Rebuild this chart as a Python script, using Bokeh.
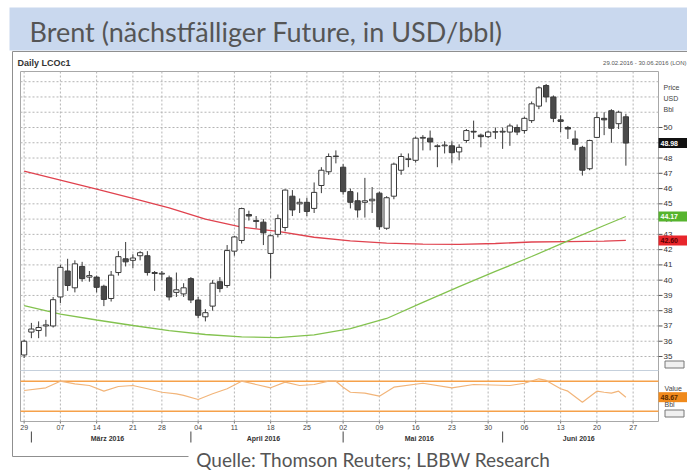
from bokeh.plotting import figure
from bokeh.models import Range1d, ColumnDataSource
from bokeh.core.properties import value
from bokeh.embed import file_html
from bokeh.resources import INLINE

# ---------------- texts ----------------
title_text = "Brent (nächstfälliger Future, in USD/bbl)"
source_text = "Quelle: Thomson Reuters; LBBW Research"
ric_text = "Daily LCOc1"
period_text = "29.02.2016 - 30.06.2016 (LON)"
unit_texts = ["Price", "USD", "Bbl"]
osc_texts = ["Value", "Bbl"]

# ---------------- data: daily OHLC, trading-day index 0 = 29.02.2016 ----------------
opens = [35.1, 36.6, 36.7, 37.0, 37.0, 38.9, 40.6, 39.5, 40.9, 40.2,
         40.2, 39.6, 38.8, 40.5, 41.4, 41.3, 41.6, 41.6, 40.5, 40.4,
         40.15, 39.2, 39.1, 40.1, 38.7, 37.6, 38.3, 39.9, 39.65, 41.9,
         42.6, 44.3, 43.9, 43.8, 41.75, 43.0, 43.45, 45.5, 45.0, 45.1,
         44.7, 46.2, 47.1, 48.1, 47.4, 45.8, 45.2, 45.1, 45.2, 45.7,
         43.4, 45.5, 47.2, 47.9, 47.85, 49.3, 49.3, 48.75, 48.8, 48.8,
         48.4, 49.15, 49.75, 49.5, 49.4, 49.7, 49.7, 49.7, 50.0, 49.8,
         50.45, 51.4, 52.75, 52.0, 50.5, 50.0, 49.25, 48.7, 47.3, 49.35,
         50.6, 51.1, 50.25, 50.7]
highs = [36.1, 37.2, 37.3, 37.4, 38.9, 41.0, 41.4, 41.3, 41.2, 40.6,
         40.3, 39.7, 40.6, 41.9, 42.5, 41.7, 41.9, 41.9, 40.6, 40.6,
         40.3, 40.5, 39.8, 40.2, 38.9, 38.1, 40.0, 40.2, 42.3, 42.9,
         44.75, 44.55, 44.2, 44.0, 43.0, 44.3, 45.95, 45.9, 45.35, 45.4,
         46.4, 47.4, 48.3, 48.5, 47.6, 46.0, 45.75, 46.7, 46.1, 45.8,
         45.5, 47.7, 48.3, 48.3, 49.4, 49.5, 49.8, 48.9, 49.1, 49.1,
         48.9, 49.9, 50.45, 49.6, 49.8, 50.0, 50.0, 50.25, 50.2, 50.7,
         51.7, 52.7, 52.85, 52.1, 50.8, 50.1, 49.8, 48.8, 49.2, 51.0,
         51.0, 51.2, 51.1, 50.9]
lows = [34.9, 36.2, 36.2, 36.3, 36.9, 38.5, 39.3, 39.2, 39.9, 39.9,
        39.2, 38.3, 38.6, 40.3, 40.9, 40.8, 41.3, 40.3, 39.3, 40.0,
        38.67, 38.9, 38.9, 38.5, 37.5, 37.3, 38.0, 39.2, 39.5, 41.6,
        42.4, 43.9, 43.4, 42.3, 40.1, 42.8, 43.2, 44.2, 44.4, 44.2,
        44.4, 45.7, 46.9, 47.65, 45.6, 44.7, 44.1, 44.1, 44.4, 43.3,
        43.3, 45.3, 46.9, 47.4, 47.7, 48.5, 48.5, 47.4, 48.3, 47.65,
        47.85, 49.0, 49.25, 48.7, 49.3, 49.25, 48.6, 48.8, 49.5, 49.6,
        50.3, 51.2, 51.65, 50.35, 49.7, 49.25, 48.5, 46.85, 47.2, 49.3,
        49.5, 49.0, 49.9, 47.5]
closes = [36.0, 36.8, 36.9, 37.07, 38.72, 40.84, 39.65, 41.07, 40.1, 40.3,
          39.53, 38.74, 40.33, 41.54, 41.2, 41.45, 41.8, 40.5, 40.44, 40.45,
          38.9, 39.37, 39.5, 38.7, 37.7, 37.87, 39.8, 39.45, 41.94, 42.83,
          44.69, 44.2, 43.85, 43.1, 42.91, 44.03, 45.9, 44.6, 45.1, 44.5,
          45.75, 47.2, 48.1, 48.13, 45.8, 45.1, 44.6, 45.2, 45.3, 43.5,
          45.4, 47.6, 48.1, 47.95, 49.3, 49.35, 49.05, 48.8, 48.85, 48.35,
          48.7, 49.8, 49.7, 49.4, 49.7, 49.72, 49.75, 50.1, 49.7, 50.6,
          51.55, 52.6, 52.0, 50.6, 50.4, 49.9, 48.9, 47.2, 49.15, 50.65,
          50.5, 49.95, 51.0, 48.98]

# moving averages (read at weekly steps)
ma_idx = [0, 5, 10, 15, 20, 25, 30, 35, 40, 45, 50, 55, 60, 65, 70, 75, 80, 83]
ma_long = [47.15, 46.55, 45.96, 45.36, 44.73, 44.0, 43.48, 43.19, 42.81, 42.57,
           42.42, 42.36, 42.34, 42.4, 42.5, 42.53, 42.56, 42.6]
ma_short = [38.34, 37.78, 37.39, 37.03, 36.7, 36.44, 36.28, 36.24, 36.41, 36.83,
            37.49, 38.54, 39.58, 40.57, 41.55, 42.57, 43.58, 44.17]

# RSI oscillator
rsi_idx = [0, 3, 5, 7, 9, 11, 13, 15, 17, 19, 21, 22, 24, 26, 28, 30, 32, 34, 36, 38,
           40, 42, 43, 44, 45, 47, 49, 51, 55, 59, 62, 67, 69, 71, 72, 74, 75, 77, 79,
           80, 81, 82, 83]
rsi_vals = [57.6, 61.2, 70.0, 66.5, 64.3, 56.7, 62.9, 64.3, 59.9, 55.3, 53.2, 51.0, 45.6,
            53.2, 59.9, 70.0, 65.6, 61.2, 68.7, 64.3, 65.6, 70.0, 70.0, 62.0, 55.3, 54.0,
            50.0, 62.0, 67.3, 61.2, 65.6, 64.3, 67.3, 73.2, 71.0, 59.9, 56.7, 42.0, 56.7,
            55.3, 54.0, 56.7, 48.7]
rsi_levels = [70, 30]
rsi_last_text = "48.67"

# axis ticks
week_ticks = [0, 5, 10, 15, 19, 24, 29, 34, 39, 44, 49, 54, 59, 64, 69, 74, 79, 84]
week_labels = ["29", "07", "14", "21", "28", "04", "11", "18", "25", "02", "09",
               "16", "23", "30", "06", "13", "20", "27"]
month_starts = [1, 23, 44, 66]
month_mids = [11.5, 33, 54.5, 76.5]
month_labels = ["März 2016", "April 2016", "Mai 2016", "Juni 2016"]
price_ticks = list(range(35, 51))
grid_prices = list(range(35, 54))

# ---------------- layout constants (canvas pixels) ----------------
W, H = 687, 472
PL, PR, PT, PB = 20, 658, 71, 421      # plot area
DX = 7.25                               # px per trading day
Y35, PPU = 356.0, 15.267                # y of 35 USD, px per USD
R70, RPU = 380.7, 0.75                  # y of RSI 70, px per RSI point
AX_FONT = value("Liberation Sans")

p = figure(width=W, height=H, output_backend="svg", toolbar_location=None,
           x_range=Range1d(-0.5 - PL / DX, -0.5 + (W - PL) / DX),
           y_range=Range1d(35 - (H - Y35) / PPU, 35 + Y35 / PPU),
           x_axis_location=None, y_axis_location=None, min_border=0,
           outline_line_color=None, background_fill_color="white",
           border_fill_color="white")
for g in p.grid:
    g.visible = False
p.extra_x_ranges = {"px": Range1d(0, W)}
p.extra_y_ranges = {"py": Range1d(H, 0),
                    "rsi": Range1d(70 - (H - R70) / RPU, 70 + R70 / RPU)}

PX = dict(x_range_name="px", y_range_name="py")

# ---------------- frame decorations ----------------
p.quad(left=[9], right=[W], top=[7], bottom=[50], fill_color="#c9d8ee",
       line_color=None, **PX)
p.segment(x0=[12, 12, 12], y0=[51, 51, 456], x1=[12, W, 188], y1=[456, 51, 456],
          line_color="#8f8f8f", line_width=1, **PX)
p.quad(left=[PL], right=[PR], top=[PT], bottom=[PB], fill_color="white",
       line_color="#a8a8a8", line_width=1, **PX)
p.segment(x0=[PL], y0=[370], x1=[PR], y1=[370], line_color="#c5d0dc", line_width=1, **PX)

# grid
n = len(week_ticks)
p.segment(x0=week_ticks, y0=[PT] * n, x1=week_ticks, y1=[PB] * n, y_range_name="py",
          line_color="#b4b4b4", line_dash="2 2", line_width=1)
m = len(grid_prices)
p.segment(x0=[PL] * m, y0=grid_prices, x1=[PR] * m, y1=grid_prices, x_range_name="px",
          line_color="#b4b4b4", line_dash="2 2", line_width=1)

# ---------------- candles ----------------
bull = [c >= o for o, c in zip(opens, closes)]
src = ColumnDataSource(dict(
    x=list(range(len(opens))), h=highs, l=lows,
    top=[max(o, c) for o, c in zip(opens, closes)],
    bottom=[min(o, c) for o, c in zip(opens, closes)],
    fill=["#ffffff" if b else "#4a4a4a" for b in bull]))
p.line(ma_idx, ma_long, line_color="#e0434f", line_width=1.3)
p.line(ma_idx, ma_short, line_color="#83c24f", line_width=1.3)
p.segment(x0="x", y0="l", x1="x", y1="h", source=src, line_color="#3a3a3a", line_width=1)
p.vbar(x="x", top="top", bottom="bottom", width=0.72, fill_color="fill",
       line_color="#3a3a3a", line_width=1, source=src)

# oscillator: level lines limited to the plot area
nl = len(rsi_levels)
p.segment(x0=[PL] * nl, y0=rsi_levels, x1=[PR] * nl, y1=rsi_levels, x_range_name="px",
          y_range_name="rsi", line_color="#f6a14a", line_width=1.6)
p.line(rsi_idx, rsi_vals, y_range_name="rsi", line_color="#f2b57a", line_width=1.2)

# ---------------- axes (drawn as ticks + texts) ----------------
# bottom day labels
p.segment(x0=week_ticks, y0=[PB] * n, x1=week_ticks, y1=[PB + 2] * n, y_range_name="py",
          line_color="#777777")
p.text(x=week_ticks, y=[427] * n, text=week_labels, y_range_name="py",
       text_font=AX_FONT, text_font_size="7px", text_color="#444444",
       text_align="center", text_baseline="middle")
# month row
p.segment(x0=month_starts, y0=[431] * 4, x1=month_starts, y1=[442] * 4,
          y_range_name="py", line_color="#444444", line_width=1)
p.text(x=month_mids, y=[437.5] * 4, text=month_labels, y_range_name="py",
       text_font=AX_FONT, text_font_size="7px", text_font_style="bold",
       text_color="#333333", text_align="center", text_baseline="middle")
# right price axis
k = len(price_ticks)
p.segment(x0=[PR] * k, y0=price_ticks, x1=[PR + 4] * k, y1=price_ticks,
          x_range_name="px", line_color="#555555")
p.text(x=[PR + 5] * k, y=price_ticks, text=[str(v) for v in price_ticks],
       x_range_name="px", text_font=AX_FONT, text_font_size="8px",
       text_color="#333333", text_baseline="middle")

# value boxes at right edge
box_vals = [closes[-1], ma_short[-1], ma_long[-1]]
box_fill = ["#111111", "#56b42e", "#e8262c"]
box_text_col = ["#ffffff", "#ffffff", "#5a0000"]
p.rect(x=[(PR + W) / 2] * 3, y=box_vals, width=W - PR, height=10, height_units="screen",
       x_range_name="px", fill_color=box_fill, line_color=None)
p.text(x=[PR + 2] * 3, y=box_vals, text=[f"{v:.2f}" for v in box_vals],
       x_range_name="px", text_font=AX_FONT, text_font_size="7px",
       text_font_style="bold", text_color=box_text_col, text_baseline="middle")
p.rect(x=[(PR + W) / 2], y=[rsi_vals[-1]], width=W - PR, height=10, height_units="screen",
       x_range_name="px", y_range_name="rsi", fill_color="#f08a1c", line_color=None)
p.text(x=[PR + 2], y=[rsi_vals[-1]], text=[rsi_last_text], x_range_name="px",
       y_range_name="rsi", text_font=AX_FONT, text_font_size="7px",
       text_font_style="bold", text_color="#5a2a00", text_baseline="middle")

# small scale buttons
p.rect(x=[674, 674], y=[364, 413], width=[19, 19], height=[7, 7], fill_color="#f0f0f0",
       line_color="#777777", line_width=1, **PX)

# ---------------- header / footer texts ----------------
p.text(x=[29], y=[31], text=[title_text], text_font=value("Lato"), text_font_size="27px",
       text_color="#555555", text_baseline="middle", **PX)
p.text(x=[373], y=[459], text=[source_text], text_font=value("Lato"),
       text_font_size="19px", text_color="#555555", text_align="center",
       text_baseline="middle", **PX)
p.text(x=[17], y=[62], text=[ric_text], text_font=AX_FONT, text_font_size="9px",
       text_font_style="bold", text_color="#333333", text_baseline="middle", **PX)
p.text(x=[686], y=[62], text=[period_text], text_font=AX_FONT, text_font_size="6px",
       text_color="#555555", text_align="right", text_baseline="middle", **PX)
p.text(x=[663] * 3, y=[87, 98, 109], text=unit_texts, text_font=AX_FONT,
       text_font_size="7px", text_color="#444444", text_baseline="middle", **PX)
p.text(x=[664, 664], y=[388, 404], text=osc_texts, text_font=AX_FONT,
       text_font_size="7px", text_color="#444444", text_baseline="middle", **PX)

open("out.html", "w").write(file_html(p, INLINE))
